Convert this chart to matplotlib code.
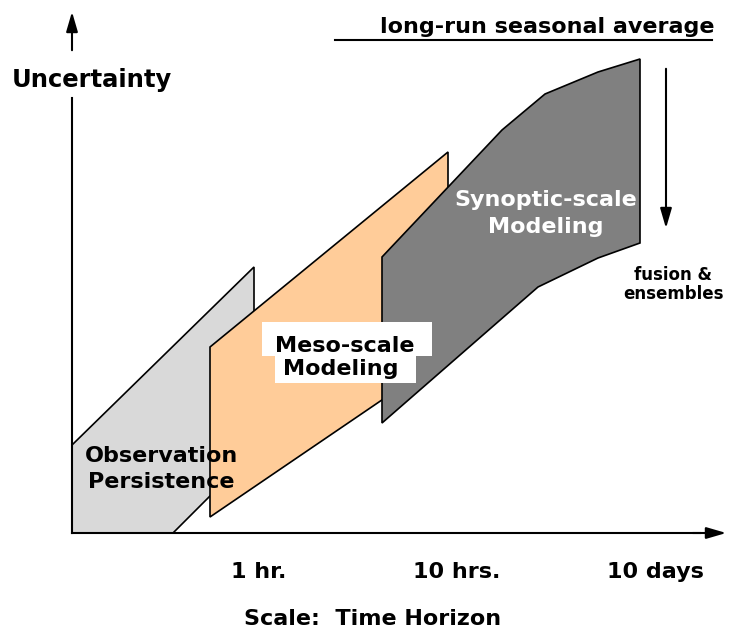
import matplotlib.pyplot as plt
from matplotlib.patches import Polygon, Rectangle

# diagram drawn in pixel space of the 730x630 picture (y grows downward)
W, H = 730, 630

# band outlines (x, y)
obs_band = [(72, 533), (173, 533), (254, 452), (254, 267), (72, 445)]
meso_band = [(210, 517), (448, 355), (448, 152), (210, 347)]
syn_band = [(382, 423), (538, 287), (598, 258), (640, 243),
            (640, 59), (598, 72), (545, 94), (502, 130), (382, 257)]

band_colors = ["#d9d9d9", "#ffcc99", "#808080"]

tick_labels = ["1 hr.", "10 hrs.", "10 days"]
tick_pos = [259, 457, 655]

FONT = "DejaVu Sans"

fig = plt.figure(figsize=(W / 100, H / 100), dpi=100)
ax = fig.add_axes([0, 0, 1, 1])
ax.set_xlim(0, W)
ax.set_ylim(H, 0)
ax.axis("off")


def label(x, y, s, size, **kw):
    kw.setdefault("ha", "center")
    ax.text(x, y, s, fontsize=size, fontweight="bold", family=FONT,
            va="baseline", zorder=5, **kw)


for pts, col in zip([obs_band, meso_band, syn_band], band_colors):
    ax.add_patch(Polygon(pts, closed=True, facecolor=col,
                         edgecolor="black", linewidth=1.2, zorder=2))

arrow = dict(arrowstyle="-|>,head_length=1.2,head_width=0.35",
             color="black", lw=1.5)

# axes
ax.plot([72, 72], [533, 98], color="black", lw=1.5, zorder=3)
ax.annotate("", xy=(72, 9), xytext=(72, 53), arrowprops=arrow)
ax.plot([72, 700], [533, 533], color="black", lw=1.5, zorder=3)
ax.annotate("", xy=(729, 533), xytext=(690, 533), arrowprops=arrow)

# fusion arrow
ax.annotate("", xy=(666, 231), xytext=(666, 66), arrowprops=arrow)

label(12, 87, "Uncertainty", 17.5, ha="left")

label(547, 33, "long-run seasonal average", 16)
ax.plot([335, 712], [40, 40], color="black", lw=1.5)

label(673, 280, "fusion &", 12)
label(673, 299, "ensembles", 12)

label(546, 206, "Synoptic-scale", 16, color="white")
label(546, 233, "Modeling", 16, color="white")

# white label patches behind the meso text
ax.add_patch(Rectangle((262, 322), 170, 34, facecolor="white",
                       edgecolor="none", zorder=4))
ax.add_patch(Rectangle((275, 355), 141, 28, facecolor="white",
                       edgecolor="none", zorder=4))
label(345, 352, "Meso-scale", 16)
label(341, 375, "Modeling", 16)

label(161, 462, "Observation", 16)
label(161, 488, "Persistence", 16)

for lab, x in zip(tick_labels, tick_pos):
    label(x, 578, lab, 16)

label(373, 625, "Scale:  Time Horizon", 16)

fig.savefig("out.png", dpi=100)
